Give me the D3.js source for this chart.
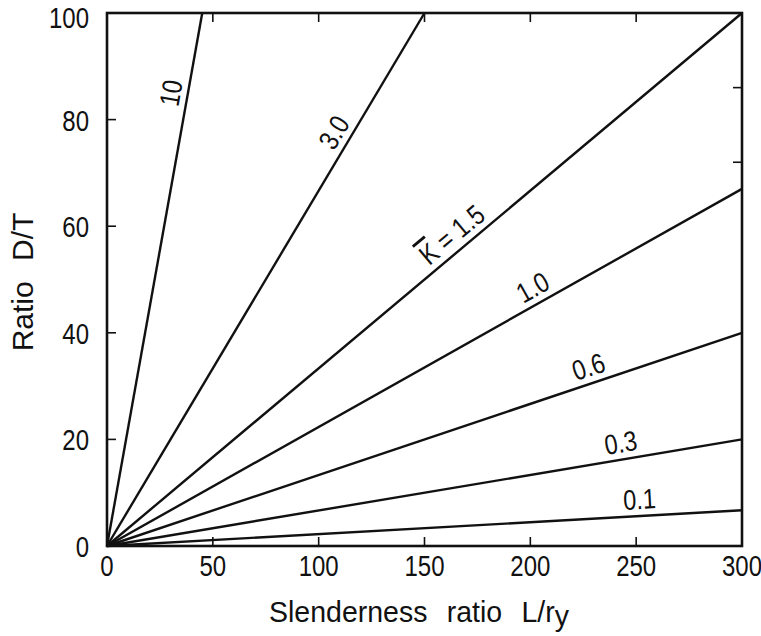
<!DOCTYPE html>
<html>
<head>
<meta charset="utf-8">
<script src="https://cdn.jsdelivr.net/npm/d3@7/dist/d3.min.js"></script>
<style>
  body { margin: 0; background: #fff; }
  svg text { font-family: "Liberation Sans", Arial, sans-serif; fill: #111; }
</style>
</head>
<body>
<div id="chart"></div>
<script>
// curve labels (K bar values) and where each straight line ends
var kLabels = ['10', '3.0', '1.5', '1.0', '0.6', '0.3', '0.1'];
var endX = [45, 150, 300, 300, 300, 300, 300];
var endY = [100, 100, 100, 67, 40, 20, 6.7];
// L/ry value along each line where its label sits
var labelX = [38, 114, 168, 205, 230, 244, 252];

var xTicks = [0, 50, 100, 150, 200, 250, 300];
var yTicks = [0, 20, 40, 60, 80, 100];
var rightTicks = [86, 72];

var w = 761, h = 636;
var squeeze = 0.8;   // the scanned lettering is narrow

var svg = d3.select('#chart').append('svg')
  .attr('width', w)
  .attr('height', h);

var x = d3.scaleLinear().domain([0, 300]).range([107, 742]);
var y = d3.scaleLinear().domain([0, 100]).range([546, 13]);

// frame
svg.append('rect')
  .attr('x', x(0))
  .attr('y', y(100))
  .attr('width', x(300) - x(0))
  .attr('height', y(0) - y(100))
  .attr('fill', 'none')
  .attr('stroke', '#111')
  .attr('stroke-width', 2.6);

// inward ticks, bottom and top
svg.selectAll('line.xb')
  .data(xTicks.slice(1, -1))
  .enter().append('line')
  .attr('class', 'xb')
  .attr('x1', function(d) { return x(d); })
  .attr('x2', function(d) { return x(d); })
  .attr('y1', y(0))
  .attr('y2', y(0) - 9)
  .attr('stroke', '#111')
  .attr('stroke-width', 1.6);

svg.selectAll('line.xt')
  .data(xTicks.slice(1, -1))
  .enter().append('line')
  .attr('class', 'xt')
  .attr('x1', function(d) { return x(d); })
  .attr('x2', function(d) { return x(d); })
  .attr('y1', y(100))
  .attr('y2', y(100) + 9)
  .attr('stroke', '#111')
  .attr('stroke-width', 1.6);

svg.selectAll('line.yl')
  .data(yTicks.slice(1, -1))
  .enter().append('line')
  .attr('class', 'yl')
  .attr('x1', x(0))
  .attr('x2', x(0) + 9)
  .attr('y1', function(d) { return y(d); })
  .attr('y2', function(d) { return y(d); })
  .attr('stroke', '#111')
  .attr('stroke-width', 1.6);

svg.selectAll('line.yr')
  .data(rightTicks)
  .enter().append('line')
  .attr('class', 'yr')
  .attr('x1', x(300))
  .attr('x2', x(300) - 9)
  .attr('y1', function(d) { return y(d); })
  .attr('y2', function(d) { return y(d); })
  .attr('stroke', '#111')
  .attr('stroke-width', 1.6);

// tick labels
svg.selectAll('text.xl')
  .data(xTicks)
  .enter().append('text')
  .attr('class', 'xl')
  .attr('transform', function(d) { return 'translate(' + x(d) + ',576) scale(' + squeeze + ',1)'; })
  .attr('text-anchor', 'middle')
  .style('font-size', '30px')
  .text(function(d) { return d; });

svg.selectAll('text.yl')
  .data(yTicks)
  .enter().append('text')
  .attr('class', 'yl')
  .attr('transform', function(d) {
    var yy = d == 100 ? y(d) + 15 : y(d) + 11;
    return 'translate(89,' + yy + ') scale(' + squeeze + ',1)';
  })
  .attr('text-anchor', 'end')
  .style('font-size', '30px')
  .text(function(d) { return d; });

// the K bar lines, all from the origin
var line = d3.line()
  .x(function(d) { return x(d[0]); })
  .y(function(d) { return y(d[1]); });

svg.selectAll('path.k')
  .data(kLabels)
  .enter().append('path')
  .attr('class', 'k')
  .attr('d', function(d, i) { return line([[0, 0], [endX[i], endY[i]]]); })
  .attr('fill', 'none')
  .attr('stroke', '#111')
  .attr('stroke-width', 2.4);

// labels along each line
kLabels.forEach(function(k, i) {
  var slope = endY[i] / endX[i];
  var px = x(labelX[i]), py = y(labelX[i] * slope);
  var ang = Math.atan2(y(endY[i]) - y(0), x(endX[i]) - x(0)) * 180 / Math.PI;
  var t = svg.append('text')
    .attr('transform', 'translate(' + px + ',' + py + ') rotate(' + ang + ') scale(0.84,1)')
    .attr('y', -7)
    .attr('text-anchor', 'middle')
    .style('font-size', '28px');
  if (k == '1.5') {
    t.append('tspan').style('text-decoration', 'overline').text('K');
    t.append('tspan').text(' = ' + k);
  } else {
    t.text(k);
  }
});

// axis titles
var xt = svg.append('text')
  .attr('transform', 'translate(419,622) scale(0.95,1)')
  .attr('text-anchor', 'middle')
  .style('font-size', '30px')
  .style('word-spacing', '12px');
xt.append('tspan').text('Slenderness ratio L/r');
xt.append('tspan').attr('dy', 4).text('y');

svg.append('text')
  .attr('transform', 'translate(33,282) rotate(-90)')
  .attr('text-anchor', 'middle')
  .style('font-size', '30px')
  .style('word-spacing', '12px')
  .text('Ratio D/T');
</script>
</body>
</html>
